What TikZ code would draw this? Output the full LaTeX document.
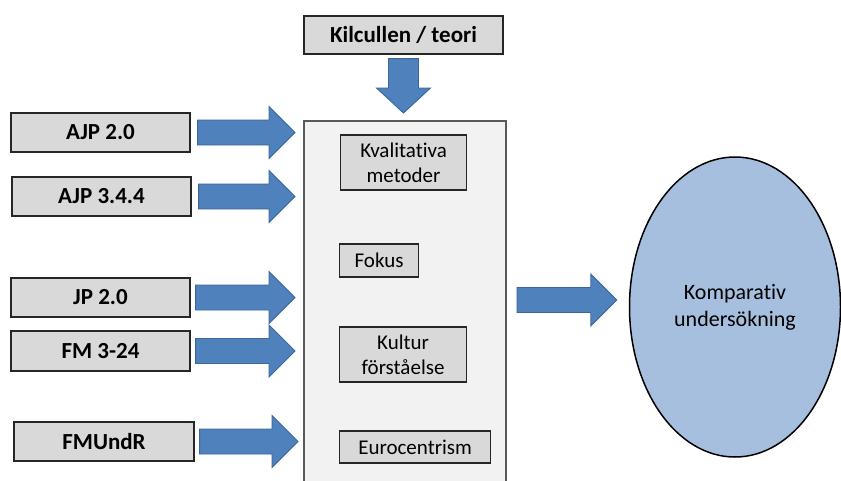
\documentclass[tikz,border=0pt]{standalone}
\usepackage{fontspec}
\setmainfont{Carlito}[Ligatures=NoCommon]
\usetikzlibrary{calc,shapes.geometric}
\definecolor{arrowblue}{HTML}{4F81BD}
\definecolor{arrowedge}{HTML}{3A6699}
\definecolor{ovalblue}{HTML}{A7BFDE}
\definecolor{boxgray}{HTML}{D9D9D9}
\definecolor{panelgray}{HTML}{F2F2F2}
\tikzset{
	srcbox/.style = {draw=black!85, fill=boxgray, line width=1.3pt, inner sep=0pt, minimum width=179pt, minimum height=39pt, font=\fontsize{23}{27}\selectfont\bfseries},
	panel/.style = {draw=black!65, fill=panelgray, line width=1.5pt, inner sep=0pt},
	topic/.style = {draw=black!85, fill=boxgray, line width=1.2pt, inner sep=0pt, align=center, font=\fontsize{21}{25}\selectfont},
	result/.style = {ellipse, draw=black, fill=ovalblue, line width=1.5pt, inner sep=0pt, align=center, font=\fontsize{22}{27}\selectfont},
	blockarrow/.style = {draw=arrowedge, fill=arrowblue, line width=0.9pt, line join=miter}
}
% horizontal block arrow: start, tip
\newcommand{\rarrow}[2]{\draw[blockarrow] let \p1=(#1), \p2=(#2) in
	(\x1,\y1+12.5pt) -- (\x2-26pt,\y1+12.5pt) -- (\x2-26pt,\y1+26pt) -- (\x2,\y1)
	-- (\x2-26pt,\y1-26pt) -- (\x2-26pt,\y1-12.5pt) -- (\x1,\y1-12.5pt) -- cycle;}
% vertical block arrow: start, tip
\newcommand{\darrow}[2]{\draw[blockarrow] let \p1=(#1), \p2=(#2) in
	(\x1-15pt,\y1) -- (\x1-15pt,\y2+25pt) -- (\x1-27pt,\y2+25pt) -- (\x1,\y2)
	-- (\x1+27pt,\y2+25pt) -- (\x1+15pt,\y2+25pt) -- (\x1+15pt,\y1) -- cycle;}

\begin{document}
\begin{tikzpicture}[x=1pt, y=-1pt]
		\useasboundingbox (0,0) rectangle (841,480);
		% sources
		\node [srcbox] (ajp20) at (100.5,132.5) {AJP 2.0};
		\node [srcbox] (ajp344) at (101.5,196.5) {AJP 3.4.4};
		\node [srcbox] (jp20) at (100.5,297.5) {JP 2.0};
		\node [srcbox, minimum height=40pt] (fm324) at (100.5,351) {FM 3-24};
		\node [srcbox, minimum width=180pt] (fmundr) at (104,441.5) {FMUndR};
		\node [srcbox, minimum width=199pt, minimum height=38pt] (kil) at (403.5,35) {Kilcullen / teori};
		% analysis panel
		\node [panel, anchor=north west, minimum width=202pt, minimum height=380pt] (main) at (303,120) {};
		\node [topic, anchor=west, minimum width=126pt, minimum height=55pt] (kval) at (340,162.5) {Kvalitativa\\metoder};
		\node [topic, anchor=west, minimum width=79pt, minimum height=33pt] (fokus) at (339,260.5) {Fokus};
		\node [topic, anchor=west, minimum width=127pt, minimum height=55pt] (kultur) at (339,354.5) {Kultur\\förståelse};
		\node [topic, anchor=west, minimum width=151pt, minimum height=32pt] (euro) at (339,447) {Eurocentrism};
		% result
		\node [result, minimum width=211pt, minimum height=300pt] (komp) at (735,307) {Komparativ\\undersökning};
		\coordinate (out) at (517,300);
		% arrows
		\darrow{[yshift=-4pt]kil.south}{[yshift=7pt]main.north}
		\rarrow{[xshift=7pt]ajp20.east}{[xshift=-8pt]main.west}
		\rarrow{[xshift=7pt]ajp344.east}{[xshift=-8pt]main.west}
		\rarrow{[xshift=5pt]jp20.east}{[xshift=-8pt]main.west}
		\rarrow{[xshift=5pt]fm324.east}{[xshift=-8pt]main.west}
		\rarrow{[xshift=5pt]fmundr.east}{[xshift=-5pt]main.west}
		\rarrow{out}{[xshift=-12pt]komp.west}
\end{tikzpicture}
\end{document}
